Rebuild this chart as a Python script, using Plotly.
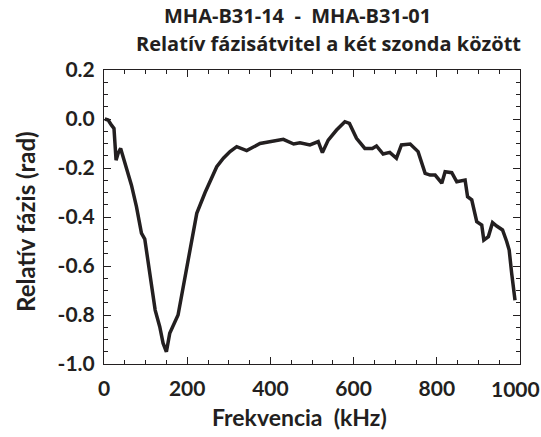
import plotly.graph_objects as go

# Frequency (kHz) and relative phase (rad) between the two probes
freq_khz = [2, 10, 18, 24, 29, 34, 40, 45, 58, 66, 78, 90, 98, 110, 123, 134, 142,
            150, 158, 178, 199, 223, 243, 263, 271, 287, 303, 319, 343, 375, 407,
            431, 456, 471, 495, 515, 525, 539, 559, 579, 590, 607, 627, 645, 655,
            671, 687, 703, 715, 736, 755, 772, 784, 796, 812, 820, 836, 848, 868,
            874, 884, 896, 908, 913, 924, 934, 944, 958, 968, 974, 980, 988]
phase_rad = [0.0, -0.004, -0.025, -0.038, -0.168, -0.14, -0.12, -0.147, -0.215,
             -0.27, -0.358, -0.466, -0.49, -0.63, -0.78, -0.848, -0.915, -0.95,
             -0.875, -0.80, -0.603, -0.385, -0.30, -0.228, -0.195, -0.16, -0.133,
             -0.113, -0.129, -0.10, -0.092, -0.083, -0.102, -0.097, -0.106, -0.092,
             -0.137, -0.086, -0.045, -0.011, -0.018, -0.079, -0.12, -0.12, -0.11,
             -0.143, -0.136, -0.16, -0.106, -0.102, -0.133, -0.222, -0.229, -0.229,
             -0.262, -0.215, -0.219, -0.256, -0.249, -0.317, -0.33, -0.419, -0.433,
             -0.494, -0.48, -0.423, -0.437, -0.453, -0.50, -0.535, -0.63, -0.74]

x_ticks = [0, 200, 400, 600, 800, 1000]
x_tick_text = ["0", "200", "400", "600", "800", "1000"]
y_ticks = [0.2, 0.0, -0.2, -0.4, -0.6, -0.8, -1.0]
y_tick_text = ["0.2", "0.0", "-0.2", "-0.4", "-0.6", "-0.8", "-1.0"]

title_lines = ["MHA-B31-14  -  MHA-B31-01", "Relatív fázisátvitel a két szonda között"]
x_title = "Frekvencia\u00a0\u00a0(kHz)"
y_title = "Relatív fázis (rad)"

FONT = "Lato"
TITLE_FONT = "Open Sans"
INK = "#231f20"
TICK_SIZE = 21

# plot area in page pixels
L, R, T, B = 104, 21, 70, 73
W, H = 541, 437


def px_to_paper(px, py):
    return (px - L) / (W - L - R), 1 + (T - py) / (H - T - B)


fig = go.Figure()
fig.add_trace(go.Scatter(x=freq_khz, y=phase_rad, mode="lines",
                         line=dict(color=INK, width=3.5), showlegend=False))

axis_common = dict(
    showgrid=False, zeroline=False, showline=True, linecolor=INK, linewidth=1,
    mirror="ticks", ticks="inside", ticklen=7, tickcolor=INK, tickwidth=1,
    tickfont=dict(family=FONT, size=TICK_SIZE, color=INK, weight="bold"),
    automargin=False,
)

# the last x label sits a little left of its tick so it fits inside the page
shown_x_text = x_tick_text[:-1] + [""]

fig.update_layout(
    width=W, height=H,
    margin=dict(l=L, r=R, t=T, b=B, autoexpand=False),
    paper_bgcolor="white", plot_bgcolor="white",
    xaxis=dict(range=[0, 1000], tickvals=x_ticks, ticktext=shown_x_text,
               ticklabelstandoff=6,
               minor=dict(dtick=50, ticks="inside", ticklen=4, tickcolor=INK),
               **axis_common),
    yaxis=dict(range=[-1.0, 0.2], tickvals=y_ticks, ticktext=y_tick_text,
               ticklabelstandoff=4,
               minor=dict(dtick=0.05, ticks="inside", ticklen=4, tickcolor=INK),
               **axis_common),
)

fig.add_annotation(
    text=x_tick_text[-1], x=x_ticks[-1], xref="x", y=0, yref="paper",
    xanchor="center", yanchor="middle", xshift=-5, yshift=-24, showarrow=False,
    font=dict(family=FONT, size=TICK_SIZE, color=INK, weight="bold"),
)

# axis titles
ax, ay = px_to_paper(299, 417)
fig.add_annotation(text=x_title, x=ax, y=ay, xref="paper", yref="paper",
                   xanchor="center", yanchor="middle", showarrow=False,
                   font=dict(family=FONT, size=23, color=INK, weight="bold"))
ax, ay = px_to_paper(25, 222)
fig.add_annotation(text=y_title, x=ax, y=ay, xref="paper", yref="paper",
                   xanchor="center", yanchor="middle", showarrow=False, textangle=-90,
                   font=dict(family=FONT, size=24, color=INK, weight="bold"))

# two title lines, stacked from the top edge
for text, px, py in [(title_lines[0], 297, 0), (title_lines[1], 328, 27.5)]:
    tx, ty = px_to_paper(px, py)
    fig.add_annotation(
        text=text, showarrow=False, xref="paper", yref="paper", x=tx, y=ty,
        xanchor="center", yanchor="top",
        font=dict(family=TITLE_FONT, size=20, color=INK, weight=700),
    )

fig.write_html("out.html")
